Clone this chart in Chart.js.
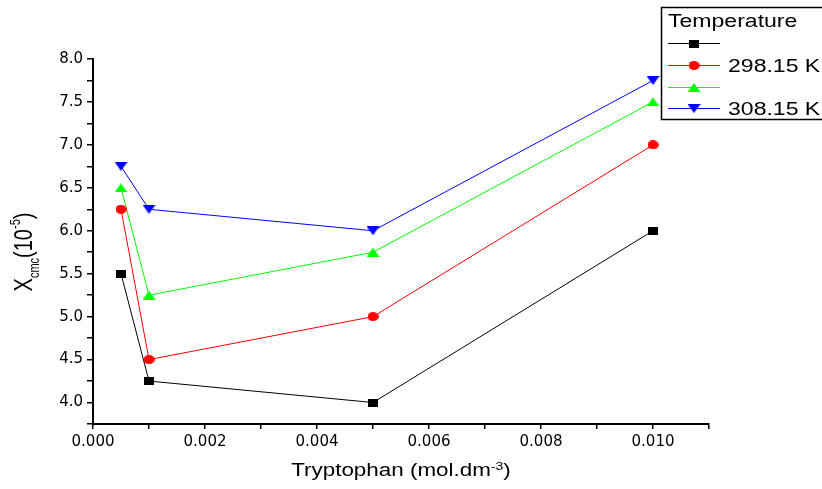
<!DOCTYPE html>
<html>
<head>
<meta charset="utf-8">
<script src="https://cdn.jsdelivr.net/npm/chart.js@4/dist/chart.umd.min.js"></script>
<style>
  body { margin: 0; background: #fff; }
  canvas { display: block; }
</style>
</head>
<body>
<canvas id="chart" width="822" height="489"></canvas>
<script>
// Tryptophan concentration (mol.dm^-3) and X_cmc (10^-5) per temperature.
const concentration = [0.0005, 0.001, 0.005, 0.010];
const seriesBlack = [5.5, 4.25, 4.0, 6.0];
const seriesRed = [6.25, 4.5, 5.0, 7.0];
const seriesGreen = [6.5, 5.25, 5.75, 7.5];
const seriesBlue = [6.75, 6.25, 6.0, 7.75];
const seriesLabels = ['', '298.15 K', '', '308.15 K'];
const legendTitle = 'Temperature';
const seriesColors = ['#000000', '#ff0000', '#00ff00', '#0000ff'];
const seriesShapes = ['square', 'circle', 'triUp', 'triDown'];

// The original figure is stretched sideways, so glyphs are drawn wider than tall.
const STRETCH = 1.28;
const FONT = '"Liberation Sans", Arial, sans-serif';

// Small canvases used as point styles (squashed like the original markers).
function makeMarker(shape, color) {
  const c = document.createElement('canvas');
  const w = shape === 'square' ? 10 : shape === 'circle' ? 11 : 13;
  const h = shape === 'square' ? 8 : 9;
  c.width = w; c.height = h;
  const g = c.getContext('2d');
  g.fillStyle = color;
  g.beginPath();
  if (shape === 'square') g.rect(0, 0, w, h);
  else if (shape === 'circle') g.ellipse(w / 2, h / 2, w / 2, h / 2, 0, 0, Math.PI * 2);
  else if (shape === 'triUp') { g.moveTo(w / 2, 0); g.lineTo(w, h); g.lineTo(0, h); }
  else { g.moveTo(0, 0); g.lineTo(w, 0); g.lineTo(w / 2, h); }
  g.closePath();
  g.fill();
  return c;
}

const markers = seriesShapes.map((s, i) => makeMarker(s, seriesColors[i]));
const allSeries = [seriesBlack, seriesRed, seriesGreen, seriesBlue];

// Draw a row of text runs [text, size, baselineShift] centred on 0.
function drawRuns(ctx, runs) {
  let total = 0;
  const widths = runs.map(r => {
    ctx.font = r[1] + 'px ' + FONT;
    const w = ctx.measureText(r[0]).width;
    total += w;
    return w;
  });
  let x = -total / 2;
  runs.forEach((r, i) => {
    ctx.font = r[1] + 'px ' + FONT;
    ctx.fillText(r[0], x, r[2]);
    x += widths[i];
  });
}

const decorations = {
  id: 'decorations',
  afterDraw(chart) {
    const ctx = chart.ctx;
    const area = chart.chartArea;
    ctx.save();
    ctx.fillStyle = '#000';
    ctx.textBaseline = 'alphabetic';
    ctx.textAlign = 'left';

    // x axis title
    ctx.save();
    ctx.translate((area.left + area.right) / 2, 476);
    ctx.scale(STRETCH, 1);
    drawRuns(ctx, [['Tryptophan (mol.dm', 17.5, 0], ['-3', 11, -6], [')', 17.5, 0]]);
    ctx.restore();

    // y axis title
    ctx.save();
    ctx.translate(32, 252);
    ctx.rotate(-Math.PI / 2);
    ctx.scale(1, STRETCH);
    drawRuns(ctx, [['X', 20, 0], ['cmc', 11, 5.5], ['(10', 20, 0], ['-5', 11, -9.4], [')', 20, 0]]);
    ctx.restore();

    // legend box
    ctx.fillStyle = '#fff';
    ctx.fillRect(661, 7, 200, 112);
    ctx.strokeStyle = '#000';
    ctx.lineWidth = 1.5;
    ctx.strokeRect(661.5, 7.5, 200, 112);

    ctx.fillStyle = '#000';
    ctx.save();
    ctx.translate(668, 27);
    ctx.scale(STRETCH, 1);
    ctx.font = '18px ' + FONT;
    ctx.fillText(legendTitle, 0, 0);
    ctx.restore();

    const rowY = [43, 65, 87, 108];
    rowY.forEach((y, i) => {
      ctx.strokeStyle = seriesColors[i];
      ctx.lineWidth = 1;
      ctx.beginPath();
      ctx.moveTo(668, y + 0.5);
      ctx.lineTo(720, y + 0.5);
      ctx.stroke();
      const m = markers[i];
      ctx.drawImage(m, 694 - m.width / 2, y + 0.5 - m.height / 2);
      if (seriesLabels[i]) {
        ctx.save();
        ctx.translate(728, y + 6.5);
        ctx.scale(STRETCH, 1);
        ctx.font = '18px ' + FONT;
        ctx.fillStyle = '#000';
        ctx.fillText(seriesLabels[i], 0, 0);
        ctx.restore();
      }
    });
    ctx.restore();
  }
};

const axisGrid = { drawOnChartArea: false, color: '#000', lineWidth: 1.5, tickLength: 6 };
const tickFont = { family: '"DejaVu Sans", sans-serif', size: 15 };

new Chart(document.getElementById('chart'), {
  type: 'line',
  data: {
    datasets: allSeries.map((vals, i) => ({
      label: seriesLabels[i],
      data: concentration.map((x, j) => ({ x: x, y: vals[j] })),
      borderColor: seriesColors[i],
      backgroundColor: seriesColors[i],
      borderWidth: 1,
      pointStyle: markers[i],
      pointRadius: 6,
      tension: 0,
      clip: false
    }))
  },
  options: {
    responsive: false,
    animation: false,
    devicePixelRatio: 1,
    layout: { padding: { top: 59, right: 113, left: 0, bottom: 0 } },
    plugins: { legend: { display: false }, tooltip: { enabled: false } },
    scales: {
      x: {
        type: 'linear',
        min: 0,
        max: 0.011,
        afterFit: s => { s.height = 65; },
        grid: Object.assign({}, axisGrid, { tickLength: 5 }),
        border: { color: '#000', width: 2 },
        ticks: {
          stepSize: 0.001,
          autoSkip: false,
          maxRotation: 0,
          padding: 4,
          color: '#000',
          font: tickFont,
          callback: v => Math.round(v * 1000) % 2 === 0 ? v.toFixed(3) : ''
        }
      },
      y: {
        min: 3.75,
        max: 8,
        afterFit: s => { s.width = 93; },
        grid: axisGrid,
        border: { color: '#000', width: 2 },
        ticks: {
          stepSize: 0.25,
          autoSkip: false,
          padding: 4,
          color: '#000',
          font: tickFont,
          callback: v => Math.round(v * 4) % 2 === 0 ? v.toFixed(1) : ''
        }
      }
    }
  },
  plugins: [decorations]
});
</script>
</body>
</html>
